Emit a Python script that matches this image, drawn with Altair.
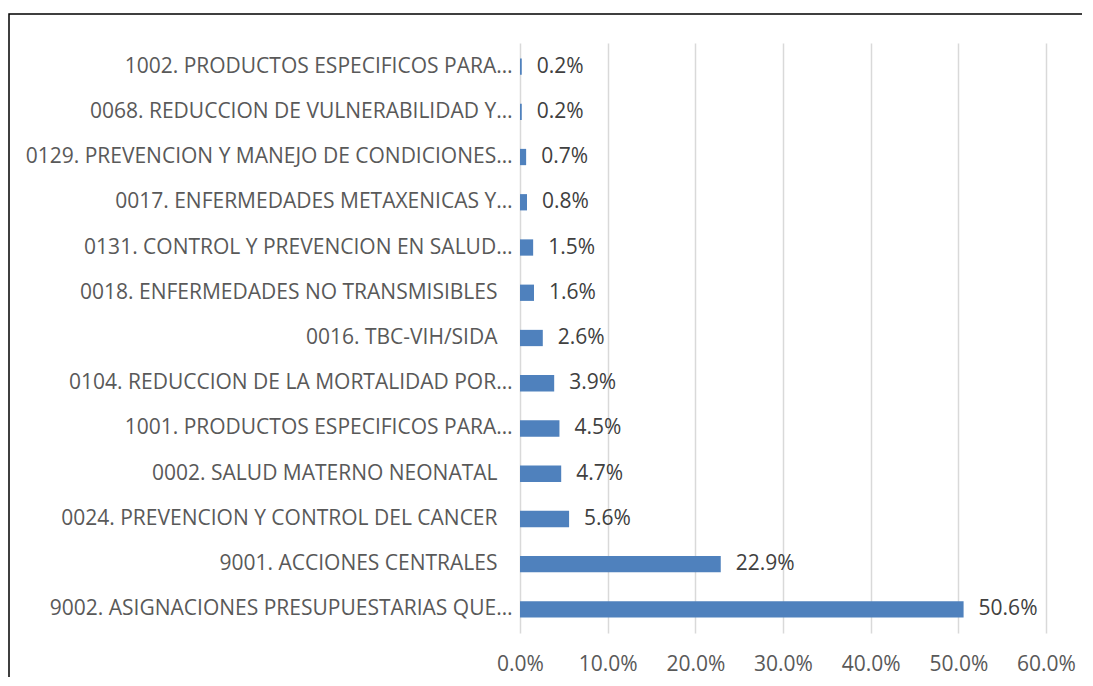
import altair as alt
import pandas as pd

categories = [
    "1002. PRODUCTOS ESPECIFICOS PARA…",
    "0068. REDUCCION DE VULNERABILIDAD Y…",
    "0129. PREVENCION Y MANEJO DE CONDICIONES…",
    "0017. ENFERMEDADES METAXENICAS Y…",
    "0131. CONTROL Y PREVENCION EN SALUD…",
    "0018. ENFERMEDADES NO TRANSMISIBLES",
    "0016. TBC-VIH/SIDA",
    "0104. REDUCCION DE LA MORTALIDAD POR…",
    "1001. PRODUCTOS ESPECIFICOS PARA…",
    "0002. SALUD MATERNO NEONATAL",
    "0024. PREVENCION Y CONTROL DEL CANCER",
    "9001. ACCIONES CENTRALES",
    "9002. ASIGNACIONES PRESUPUESTARIAS QUE…",
]
values = [0.002, 0.002, 0.007, 0.008, 0.015, 0.016, 0.026, 0.039, 0.045, 0.047, 0.056, 0.229, 0.506]
x_ticks = [0.0, 0.1, 0.2, 0.3, 0.4, 0.5, 0.6]

df = pd.DataFrame({"cat": categories, "val": values})

W, H = 526, 590
FONT = "Open Sans"
FS = 21

y_enc = alt.Y("cat:N", sort=categories, title=None,
              scale=alt.Scale(paddingInner=0.64, paddingOuter=0.34),
              axis=alt.Axis(ticks=False, domain=False,
                            labelPadding={"condition": {"test": "indexof(datum.value, '…') >= 0", "value": 8},
                                          "value": 23},
                            labelFontSize=FS, labelColor="#595959",
                            labelFont=FONT, labelLimit=600))
x_enc = alt.X("val:Q", title=None,
              scale=alt.Scale(domain=[0, 0.6], nice=False),
              axis=alt.Axis(values=x_ticks, format=".1%", ticks=False, domain=False,
                            grid=True, gridColor="#d9d9d9", gridWidth=1.5,
                            labelFlush=False, labelOverlap=False,
                            labelPadding=20, labelFontSize=FS, labelColor="#595959",
                            labelFont=FONT))

bars = alt.Chart(df).mark_bar(color="#4f81bd").encode(x=x_enc, y=y_enc)
labels = alt.Chart(df).mark_text(align="left", baseline="middle", dx=15,
                                 fontSize=FS, font=FONT, color="#404040").encode(
    x="val:Q", y=alt.Y("cat:N", sort=categories), text=alt.Text("val:Q", format=".1%"))

frame = alt.Chart(pd.DataFrame({"a": [0]})).mark_rect(
    fill="transparent", stroke="#000000", strokeWidth=1.5).encode(
    x=alt.value(-511), x2=alt.value(W + 60),
    y=alt.value(-29), y2=alt.value(H + 80))

chart = alt.layer(frame, bars, labels).properties(
    width=W, height=H,
    autosize=alt.AutoSizeParams(type="none"),
    padding={"left": 512, "top": 35, "right": 36, "bottom": 44},
).configure_view(stroke=None)

chart.save("out.html", embed_options={"renderer": "svg", "actions": False})
